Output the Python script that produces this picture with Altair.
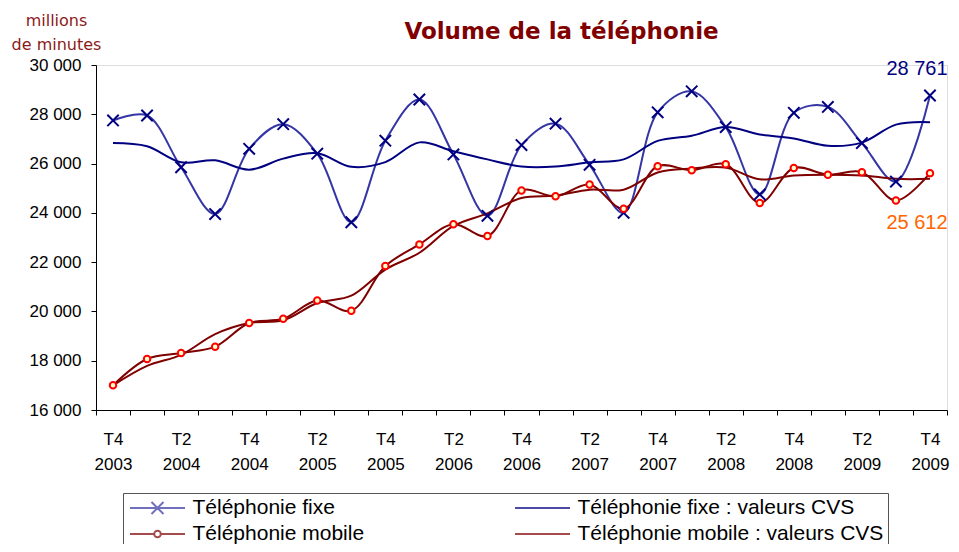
import altair as alt
import pandas as pd

quarters = ["T4 2003", "T1 2004", "T2 2004", "T3 2004", "T4 2004", "T1 2005", "T2 2005",
            "T3 2005", "T4 2005", "T1 2006", "T2 2006", "T3 2006", "T4 2006", "T1 2007",
            "T2 2007", "T3 2007", "T4 2007", "T1 2008", "T2 2008", "T3 2008", "T4 2008",
            "T1 2009", "T2 2009", "T3 2009", "T4 2009"]

fixe = [27750, 27950, 25850, 23950, 26600, 27600, 26400, 23620, 26930, 28600, 26370, 23880,
        26750, 27620, 25950, 24000, 28080, 28930, 27480, 24750, 28060, 28300, 26830, 25270, 28761]
fixe_cvs = [26830, 26700, 26050, 26130, 25750, 26200, 26420, 25870, 26060, 26860, 26500, 26170,
            25880, 25880, 26050, 26170, 26920, 27130, 27480, 27180, 27020, 26720, 26850, 27580, 27680]
mobile = [17000, 18070, 18310, 18570, 19530, 19700, 20440, 20030, 21840, 22720, 23540, 23060,
          24910, 24670, 25150, 24170, 25890, 25730, 25970, 24400, 25820, 25550, 25650, 24500, 25612]
mobile_cvs = [17000, 17790, 18240, 19080, 19530, 19640, 20340, 20640, 21700, 22380, 23470, 23980,
              24600, 24700, 24940, 24940, 25640, 25800, 25840, 25360, 25520, 25550, 25520, 25380, 25380]

# legend order (column-major): fixe, mobile | fixe CVS, mobile CVS
series_names = ["Téléphonie fixe", "Téléphonie mobile",
                "Téléphonie fixe : valeurs CVS", "Téléphonie mobile : valeurs CVS"]
series_values = [fixe, mobile, fixe_cvs, mobile_cvs]
series_colors = ["#3535A5", "#800000", "#000080", "#800000"]
legend_symbols = [
    "M-2.75,0L2.75,0M-0.6,-0.6L0.6,0.6M-0.6,0.6L0.6,-0.6",
    "M-2.75,0L-0.33,0M0.33,0L2.75,0M-0.33,0A0.33,0.33 0 1,0 0.33,0A0.33,0.33 0 1,0 -0.33,0",
    "M-2.75,0L2.75,0",
    "M-2.75,0L2.75,0",
]
y_ticks = [16000, 18000, 20000, 22000, 24000, 26000, 28000, 30000]

rows = []
for name, vals in zip(series_names, series_values):
    for i, (q, v) in enumerate(zip(quarters, vals)):
        rows.append({"q": q, "i": i, "series": name, "value": v})
df = pd.DataFrame(rows)

last_fixe = pd.DataFrame([{"q": quarters[-1], "value": fixe[-1],
                           "label": f"{fixe[-1]:,}".replace(",", " ")}])
last_mobile = pd.DataFrame([{"q": quarters[-1], "value": mobile[-1],
                             "label": f"{mobile[-1]:,}".replace(",", " ")}])

x_enc = alt.X("q:N", bandPosition=0.5,
              scale=alt.Scale(domain=quarters, type="band", paddingInner=0, paddingOuter=0),
              axis=alt.Axis(title=None, tickBand="extent", labelAngle=0, labelOverlap=False,
                            labelExpr="(!isString(datum.value) || indexof(datum.value,'T1')==0 || indexof(datum.value,'T3')==0) ? '' : split(datum.value,' ')",
                            labelFont="Liberation Sans", labelFontSize=17, labelLineHeight=25,
                            labelPadding=16, labelColor="black",
                            tickSize=5, tickColor="black", domainColor="black"))
y_enc = alt.Y("value:Q",
              scale=alt.Scale(domain=[16000, 30000], nice=False, zero=False),
              axis=alt.Axis(values=y_ticks, grid=False, format=",d",
                            labelFont="Liberation Sans", labelFontSize=17, labelColor="black",
                            labelPadding=10, tickSize=5, tickColor="black", domainColor="black",
                            title=["millions", "de minutes"], titleAngle=0, titleAlign="center",
                            titleBaseline="top", titleX=-40, titleY=-53,
                            titleFont="DejaVu Sans", titleFontSize=16, titleFontWeight="normal",
                            titleColor="#8B1A1A", titleLineHeight=24))

leg = alt.Legend(orient="none", legendX=27, legendY=428, columns=2, title=None,
                 labelFont="Liberation Sans", labelFontSize=21, labelColor="black",
                 labelLimit=500, labelOffset=24, symbolSize=400, symbolOffset=19.5,
                 symbolStrokeWidth=2, symbolFillColor="#FFFFCC",
                 columnPadding=146, rowPadding=5, padding=4,
                 strokeColor="#555555", fillColor="white")

color_enc = alt.Color("series:N", scale=alt.Scale(domain=series_names, range=series_colors), legend=leg)
shape_enc = alt.Shape("series:N", scale=alt.Scale(domain=series_names, range=legend_symbols), legend=leg)

base = alt.Chart(df).encode(x=x_enc, y=y_enc)

lines = base.mark_line(strokeWidth=2, interpolate="catmull-rom").encode(
    color=color_enc, order=alt.Order("i:Q"))

crosses = base.transform_filter(alt.datum.series == "Téléphonie fixe").mark_point(
    shape="M-1,-1L1,1M-1,1L1,-1", size=130, filled=False, color="#000080",
    strokeWidth=2, opacity=1)

circles = base.transform_filter(alt.datum.series == "Téléphonie mobile").mark_point(
    shape="circle", size=42, filled=True, fill="#FFFFCC", stroke="#FF0000",
    strokeWidth=2, opacity=1)

legend_layer = base.transform_filter("datum.value < 0").mark_point(
    filled=False, strokeWidth=2).encode(color=color_enc, shape=shape_enc)

ann_fixe = alt.Chart(last_fixe).mark_text(
    font="Liberation Sans", fontSize=20, color="#000080", dx=-13, dy=-27,
    align="center", baseline="middle").encode(
    x=alt.X("q:N", bandPosition=0.5), y="value:Q", text="label:N")
ann_mobile = alt.Chart(last_mobile).mark_text(
    font="Liberation Sans", fontSize=20, color="#FF6600", dx=-13, dy=50,
    align="center", baseline="middle").encode(
    x=alt.X("q:N", bandPosition=0.5), y="value:Q", text="label:N")

chart = alt.layer(lines, crosses, circles, legend_layer, ann_fixe, ann_mobile).properties(
    width=851, height=345,
    autosize=alt.AutoSizeParams(type="none"),
    padding={"left": 88, "top": 57, "right": 4, "bottom": 134},
    title=alt.TitleParams("Volume de la téléphonie", font="DejaVu Sans", fontSize=23,
                          fontWeight="bold", color="#800000", anchor="middle",
                          frame="group", dx=40, offset=-50, baseline="alphabetic"),
).configure_view(strokeWidth=0).configure(
    background="white",
    locale={"number": {"decimal": ",", "thousands": " ", "grouping": [3], "currency": ["", " €"]}},
)

chart.save("out.html", embed_options={"renderer": "svg", "actions": False})
